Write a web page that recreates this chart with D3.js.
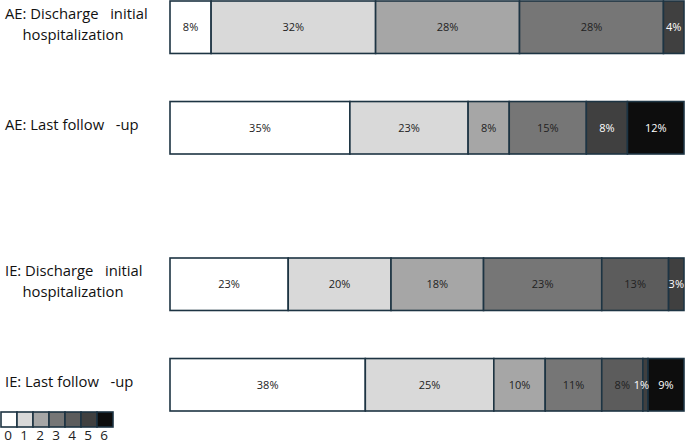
<!DOCTYPE html>
<html>
<head>
<meta charset="utf-8">
<script src="https://cdn.jsdelivr.net/npm/d3@7"></script>
<style>
  html, body { margin: 0; padding: 0; background: #fff; }
  svg { display: block; }
  text { font-family: "Open Sans", "Noto Sans", sans-serif; }
</style>
</head>
<body>
<svg id="chart" width="685" height="443"></svg>
<script>
// ---------- data ----------
const groups = ["AE", "IE"];
const timepoints = ["Discharge", "Last"];
const categories = ["AE|Discharge", "AE|Last", "IE|Discharge", "IE|Last"];
const categoryLabels = [
  ["AE: Discharge   initial", "hospitalization"],
  ["AE: Last follow   -up"],
  ["IE: Discharge   initial", "hospitalization"],
  ["IE: Last follow   -up"]
];
const levels = ["0", "1", "2", "3", "4", "5", "6"];
const level0 = [8, 35, 23, 38];
const level1 = [32, 23, 20, 25];
const level2 = [28, 8, 18, 10];
const level3 = [28, 15, 23, 11];
const level4 = [0, 0, 13, 8];
const level5 = [4, 8, 3, 1];
const level6 = [0, 12, 0, 9];
const seriesValues = [level0, level1, level2, level3, level4, level5, level6];
const levelColors = ["#ffffff", "#d9d9d9", "#a6a6a6", "#767676", "#5c5c5c", "#404040", "#0d0d0d"];

// ---------- table ----------
const table = categories.map((c, i) => {
  const row = { key: c, group: c.split("|")[0], time: c.split("|")[1], labels: categoryLabels[i] };
  levels.forEach((l, j) => { row[l] = seriesValues[j][i]; });
  return row;
});

const stacked = d3.stack().keys(levels)(table);

// ---------- scales ----------
const svg = d3.select("#chart");
const x = d3.scaleLinear().domain([0, 100]).range([170, 684]).clamp(true);
const yGroup = d3.scaleBand().domain(groups).range([1, 515]);
const yTime = d3.scaleBand().domain(timepoints).range([0, 153]).paddingInner(0.478).paddingOuter(0);
const yTop = d => yGroup(d.group) + yTime(d.time);
const bh = yTime.bandwidth();
const color = d3.scaleOrdinal().domain(levels).range(levelColors);
const stroke = "#1d3443";

// ---------- bars ----------
const segments = stacked.flatMap(s => s.map(p => ({ key: s.key, p, row: p.data })))
  .filter(d => d.row[d.key] > 0);

svg.append("g").selectAll("rect")
  .data(segments)
  .join("rect")
  .attr("x", d => x(d.p[0]))
  .attr("y", d => yTop(d.row))
  .attr("width", d => x(d.p[1]) - x(d.p[0]))
  .attr("height", bh)
  .attr("fill", d => color(d.key))
  .attr("stroke", stroke)
  .attr("stroke-width", 1.6);

svg.append("g").selectAll("text")
  .data(segments)
  .join("text")
  .attr("x", d => (x(d.p[0]) + x(d.p[1])) / 2 - (d.row[d.key] <= 1 ? 4 : 0))
  .attr("y", d => yTop(d.row) + bh / 2 + 4)
  .attr("text-anchor", "middle")
  .attr("font-size", 11)
  .attr("fill", d => (+d.key >= 5 ? "#ffffff" : "#222222"))
  .text(d => d.row[d.key] + "%");

// ---------- category labels ----------
const lab = svg.append("g").selectAll("text")
  .data(table).join("text")
  .attr("font-size", 14.8)
  .attr("fill", "#111")
  .style("white-space", "pre");

lab.each(function (d) {
  const n = d.labels.length;
  const yc = yTop(d) + bh / 2;
  d3.select(this).selectAll("tspan")
    .data(d.labels).join("tspan")
    .attr("x", (t, i) => (i === 0 ? 5 : 73))
    .attr("text-anchor", (t, i) => (i === 0 ? "start" : "middle"))
    .attr("y", (t, i) => yc + (i - (n - 1) / 2) * 21 + 2)
    .text(t => t);
});

// ---------- legend ----------
const lx = d3.scaleBand().domain(levels).range([1, 113]);
const legend = svg.append("g");
legend.selectAll("rect").data(levels).join("rect")
  .attr("x", d => lx(d))
  .attr("y", 412)
  .attr("width", lx.bandwidth())
  .attr("height", 15)
  .attr("fill", d => color(d))
  .attr("stroke", stroke)
  .attr("stroke-width", 1.6);
legend.selectAll("text").data(levels).join("text")
  .attr("x", d => lx(d) + lx.bandwidth() / 2 - 1)
  .attr("y", 439.5)
  .attr("text-anchor", "middle")
  .attr("font-size", 13.5)
  .attr("fill", "#222")
  .text(d => d);
</script>
</body>
</html>
